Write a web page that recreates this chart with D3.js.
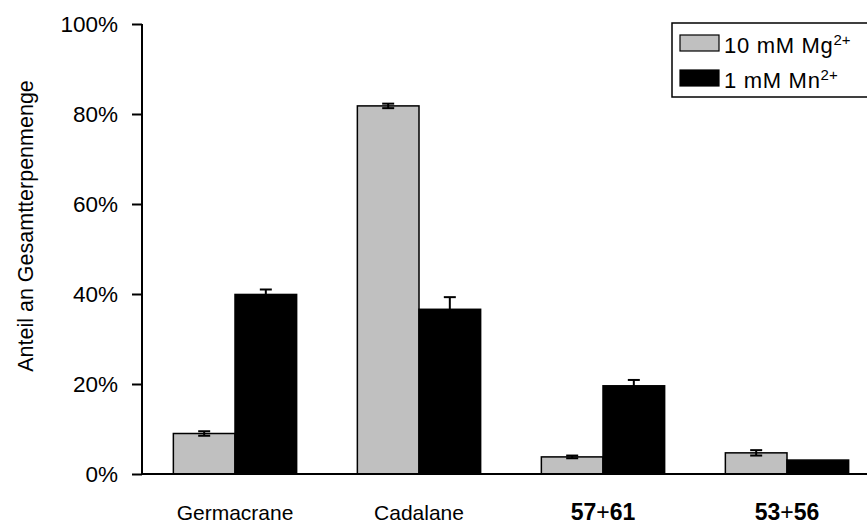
<!DOCTYPE html>
<html>
<head>
<meta charset="utf-8">
<script src="https://cdn.jsdelivr.net/npm/d3@7"></script>
<style>
  body { margin: 0; background: #fff; }
  text { font-family: "Liberation Sans", Arial, sans-serif; fill: #000; }
</style>
</head>
<body>
<div id="chart"></div>
<script>
// Data
var categories = ["Germacrane", "Cadalane", "57+61", "53+56"];
var seriesNames = ["10 mM Mg", "1 mM Mn"];
var mgValues = [9.0, 81.8, 3.8, 4.7];
var mgErrors = [0.5, 0.5, 0.3, 0.6];
var mnValues = [39.9, 36.6, 19.6, 3.1];
var mnErrors = [1.1, 2.7, 1.3, 0];
var yTicks = [0, 20, 40, 60, 80, 100];

var width = 867, height = 527;
var fontSize = "21px";

var svg = d3.select("#chart")
    .append("svg")
    .attr("width", width)
    .attr("height", height);

// Scales
var x = d3.scaleBand()
    .domain(categories)
    .range([143, 879])
    .paddingInner(0.33)
    .paddingOuter(0.165);

var xSub = d3.scaleBand()
    .domain([0, 1])
    .range([0, x.bandwidth()]);

var y = d3.scaleLinear()
    .domain([0, 100])
    .range([474, 24]);

// Bars
var colors = ["#c0c0c0", "#000000"];
var series = [
    { values: mgValues, errors: mgErrors },
    { values: mnValues, errors: mnErrors }
];

series.forEach(function (s, si) {
    var g = svg.append("g");
    g.selectAll("rect")
        .data(categories)
        .enter()
        .append("rect")
        .attr("x", d => x(d) + xSub(si))
        .attr("y", (d, i) => y(s.values[i]))
        .attr("width", xSub.bandwidth())
        .attr("height", (d, i) => y(0) - y(s.values[i]))
        .attr("fill", colors[si])
        .attr("stroke", "#000")
        .attr("stroke-width", 1.5);
});

// Error bars
series.forEach(function (s, si) {
    var g = svg.append("g").attr("stroke", "#000").attr("stroke-width", 2);
    categories.forEach(function (c, i) {
        if (!s.errors[i]) return;
        var cx = x(c) + xSub(si) + xSub.bandwidth() / 2;
        var top = y(s.values[i] + s.errors[i]);
        var bottom = y(s.values[i] - s.errors[i]);
        g.append("line").attr("x1", cx).attr("x2", cx).attr("y1", top).attr("y2", bottom);
        g.append("line").attr("x1", cx - 6).attr("x2", cx + 6).attr("y1", top).attr("y2", top);
        g.append("line").attr("x1", cx - 6).attr("x2", cx + 6).attr("y1", bottom).attr("y2", bottom);
    });
});

// Y axis
var yAxis = svg.append("g")
    .attr("transform", "translate(142,0)")
    .call(d3.axisLeft(y).tickValues(yTicks).tickSize(10).tickPadding(14).tickFormat(d => d + "%"));
yAxis.select(".domain").attr("stroke-width", 2).attr("d", "M0," + y(100) + "V" + y(0));
yAxis.selectAll(".tick line").attr("stroke-width", 2);
yAxis.selectAll("text")
    .attr("fill", "#000")
    .style("font-size", "22.5px")
    .style("font-family", "'Liberation Sans', Arial, sans-serif");

// X axis line
var xAxis = svg.append("g")
    .attr("transform", "translate(0," + y(0) + ")")
    .call(d3.axisBottom(x).tickSize(0).tickPadding(0).tickFormat(""));
xAxis.select(".domain").attr("stroke-width", 2).attr("d", "M141,0H867");

// Category labels (numbers bold, like in the reference)
categories.forEach(function (c) {
    var t = svg.append("text")
        .attr("x", x(c) + x.bandwidth() / 2)
        .attr("y", 520)
        .attr("text-anchor", "middle")
        .style("font-size", fontSize);
    if (c.indexOf("+") > 0) {
        var parts = c.split("+");
        t.style("font-size", "23px");
        t.append("tspan").attr("font-weight", "bold").text(parts[0]);
        t.append("tspan").text("+");
        t.append("tspan").attr("font-weight", "bold").text(parts[1]);
    } else {
        t.text(c);
    }
});

// Y axis title
svg.append("text")
    .attr("transform", "translate(33,226) rotate(-90)")
    .attr("text-anchor", "middle")
    .style("font-size", "21.5px")
    .text("Anteil an Gesamtterpenmenge");

// Legend
var legend = svg.append("g");
legend.append("rect")
    .attr("x", 672).attr("y", 23)
    .attr("width", 210).attr("height", 74)
    .attr("fill", "#fff").attr("stroke", "#000").attr("stroke-width", 1.5);

seriesNames.forEach(function (name, i) {
    var ly = 35 + i * 35;
    legend.append("rect")
        .attr("x", 680).attr("y", ly)
        .attr("width", 39).attr("height", 16)
        .attr("fill", colors[i]).attr("stroke", "#000").attr("stroke-width", 1.2);
    var t = legend.append("text")
        .attr("x", 724).attr("y", ly + 18)
        .style("font-size", "22px")
        .style("letter-spacing", "0.7px");
    t.append("tspan").text(name);
    t.append("tspan").attr("dy", -8).style("font-size", "15px").style("letter-spacing", "0px").text("2+");
});
</script>
</body>
</html>
